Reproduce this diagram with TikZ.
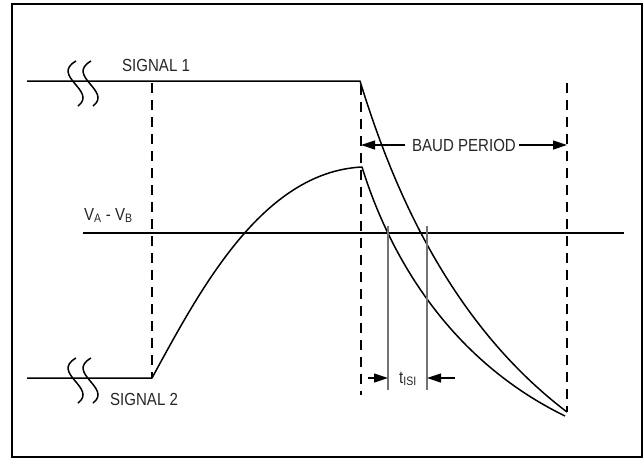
\documentclass[tikz,border=0pt]{standalone}
\usepackage{fontspec}
\setmainfont{Liberation Sans}[FakeStretch=0.86]
\usetikzlibrary{arrows.meta}
\begin{document}
\begin{tikzpicture}[x=1pt,y=-1pt,
  sig/.style={line width=1.5pt,black,line join=round},
  dsh/.style={line width=1.5pt,black,dash pattern=on 10pt off 7pt},
  gry/.style={line width=1.5pt,black!55},
  dim/.style={line width=1.2pt,black,-{Triangle[length=14pt,width=9pt]}},
  lbl/.style={inner sep=0pt,text=black!85,font=\fontsize{17.5}{17.5}\selectfont},
  brk/.style={line width=1.5pt,black}]
\useasboundingbox (0,0) rectangle (644,459);
\draw[line width=2pt] (11.5,4) rectangle (642,457);
% coordinates
\coordinate (s1a) at (27,81);
\coordinate (s1b) at (360,81);
\coordinate (s1e) at (567,412);
\coordinate (s2a) at (27,378);
\coordinate (s2b) at (152,378);
\coordinate (pk) at (362,167);
\coordinate (s2e) at (565,416);
\coordinate (va) at (83,233);
\coordinate (vb) at (624,233);
% signal lines
\draw[sig] (s1a) -- (s1b) .. controls (388,172) and (443,318) .. (s1e);
\draw[sig] (s2a) -- (s2b) .. controls (200,290) and (262,172) .. (pk)
   .. controls (380,225) and (430,350) .. (s2e);
% threshold line
\draw[sig] (va) -- (vb);
% break marks
\foreach \yc in {81,378}{
  \draw[brk] (76,\yc-20) .. controls (50,\yc-5) and (98,\yc+10) .. (78,\yc+25);
  \draw[brk] (91,\yc-20) .. controls (65,\yc-5) and (113,\yc+10) .. (93,\yc+25);
}
% dashed verticals
\coordinate (d1t) at (152,83); \coordinate (d1b) at (152,378);
\coordinate (d2t) at (361,85); \coordinate (d2b) at (361,395);
\coordinate (d3t) at (567,83); \coordinate (d3b) at (567,412);
\draw[dsh] (d1t) -- (d1b);
\draw[dsh] (d2t) -- (d2b);
\draw[dsh] (d3t) -- (d3b);
% ISI verticals
\coordinate (g1t) at (388,226); \coordinate (g1b) at (388,390);
\coordinate (g2t) at (427,226); \coordinate (g2b) at (427,390);
\draw[gry] (g1t) -- (g1b);
\draw[gry] (g2t) -- (g2b);
% labels
\node[lbl,anchor=base west] (sig1) at (122,71) {SIGNAL 1};
\node[lbl,anchor=base west] (sig2) at (110,405) {SIGNAL 2};
\node[lbl,anchor=base west] (vab) at (84,220) {V\textsubscript{A} - V\textsubscript{B}};
\node[lbl,anchor=base] (baud) at (464,151) {BAUD PERIOD};
\node[lbl,anchor=base] (tisi) at (408,383) {t\textsubscript{ISI}};
% baud period arrows
\coordinate (bl) at (361,145);
\coordinate (br) at (567,145);
\draw[dim] (baud.west|-bl) ++(-7,0) -- (bl);
\draw[dim] (baud.east|-br) ++(3,0) -- (br);
% tisi arrows
\coordinate (ta1) at (368,378);
\coordinate (ta2) at (455,378);
\draw[dim] (ta1) -- (g1b|-ta1);
\draw[dim] (ta2) -- (g2b|-ta2);
\end{tikzpicture}
\end{document}
